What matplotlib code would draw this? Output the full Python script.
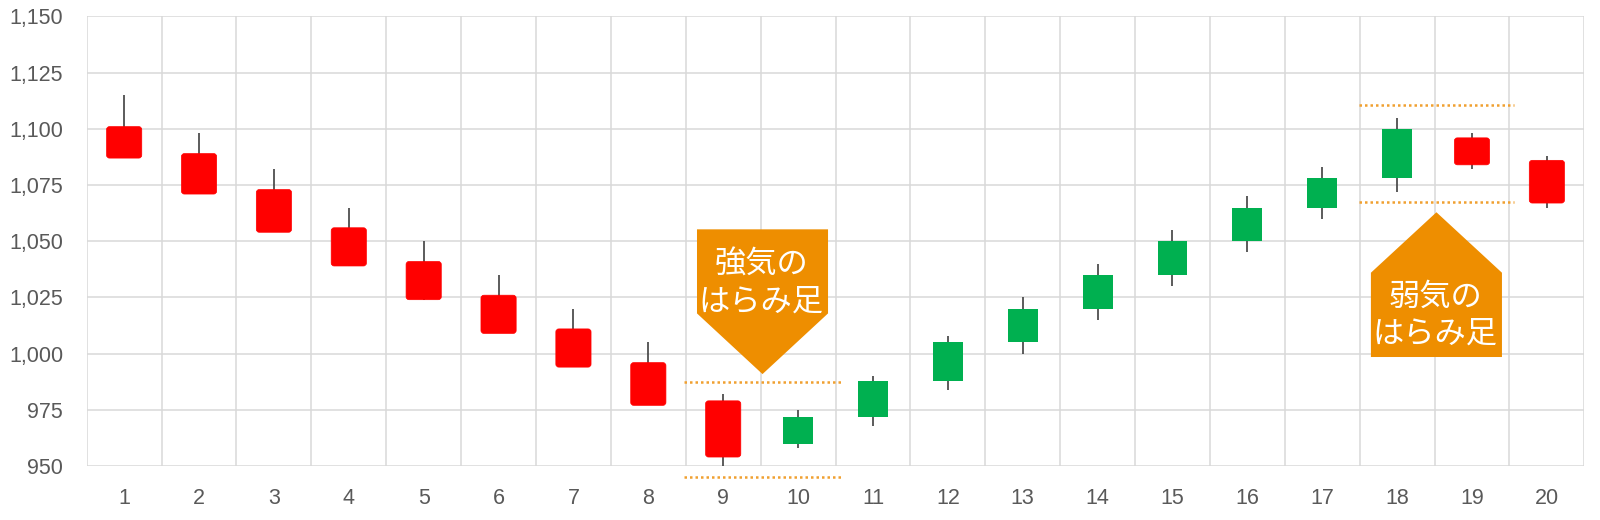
import matplotlib
matplotlib.use("Agg")
import matplotlib.pyplot as plt
from matplotlib.patches import FancyBboxPatch, Rectangle, Polygon
from matplotlib.ticker import FuncFormatter

# ---- data ----
days = list(range(1, 21))
opens  = [1101, 1089, 1073, 1056, 1041, 1026, 1011, 996, 979, 960,
          972, 988, 1005, 1020, 1035, 1050, 1065, 1078, 1096, 1086]
closes = [1087, 1071, 1054, 1039, 1024, 1009, 994, 977, 954, 972,
          988, 1005, 1020, 1035, 1050, 1065, 1078, 1100, 1084, 1067]
highs  = [1115, 1098, 1082, 1065, 1050, 1035, 1020, 1005, 982, 975,
          990, 1008, 1025, 1040, 1055, 1070, 1083, 1105, 1098, 1088]
lows   = [1087, 1071, 1054, 1039, 1024, 1009, 994, 977, 950, 958,
          968, 984, 1000, 1015, 1030, 1045, 1060, 1072, 1082, 1065]
y_ticks = [950, 975, 1000, 1025, 1050, 1075, 1100, 1125, 1150]

# annotation data
bull_label = "強気の\nはらみ足"
bear_label = "弱気の\nはらみ足"
bull_range_x = [8.48, 10.58]
bull_levels = [987.5, 945]
bear_range_x = [17.49, 19.56]
bear_levels = [1110.5, 1067.5]
# callout pentagons: (left, right, flat edge y, shoulder y, tip y, tip x)
bull_callout = (8.65, 10.40, 1055.3, 1017.9, 990.9, 9.525)
bear_callout = (17.65, 19.40, 998.5, 1036.0, 1062.9, 18.525)
bull_text_xy = (9.51, 1031.5)
bear_text_xy = (18.51, 1017.0)

RED = "#FF0000"
GREEN = "#00B050"
ORANGE = "#EE8E00"
DOT = "#F0A030"

plt.rcParams['font.family'] = ['Liberation Sans', 'DejaVu Sans']

fig = plt.figure(figsize=(16, 5.2), dpi=100)
ax = fig.add_axes([0.0542, 0.1038, 0.9360, 0.8645])

ax.set_xlim(0.5, 20.5)
ax.set_ylim(950, 1150)

# grid
ax.set_yticks(y_ticks)
ax.set_xticks(days)
ax.set_xticks([d - 0.5 for d in days] + [20.5], minor=True)
ax.grid(True, which='major', axis='y', color='#D9D9D9', lw=1.1)
ax.grid(True, which='minor', axis='x', color='#D9D9D9', lw=1.1)
ax.set_axisbelow(True)
for s in ax.spines.values():
    s.set_visible(False)
ax.tick_params(axis='both', which='both', length=0)
ax.tick_params(axis='y', pad=17, labelsize=15.5, labelcolor='#595959')
ax.tick_params(axis='x', pad=15.5, labelsize=15.5, labelcolor='#595959')
ax.yaxis.set_major_formatter(FuncFormatter(lambda v, p: f"{int(v):,}"))

# candles
for d, o, c, h, l in zip(days, opens, closes, highs, lows):
    top, bot = max(o, c), min(o, c)
    ax.plot([d, d], [bot, h], color='#404040', lw=1.2, zorder=2, solid_capstyle='butt')
    ax.plot([d, d], [l, top], color='#404040', lw=1.2, zorder=2, solid_capstyle='butt')
    if c < o:
        w = 0.47
        p = FancyBboxPatch((d - w / 2, bot), w, top - bot,
                           boxstyle="round,pad=0,rounding_size=0.04",
                           mutation_aspect=33,
                           facecolor=RED, edgecolor=RED, lw=0.5, zorder=3)
        ax.add_patch(p)
    else:
        w = 0.40
        ax.add_patch(Rectangle((d - w / 2, bot), w, top - bot,
                               facecolor=GREEN, edgecolor='none', zorder=3))

# dotted levels
for lvl in bull_levels:
    ax.plot(bull_range_x, [lvl, lvl], color=DOT, lw=1.8, ls=(0, (1, 1.2)),
            clip_on=False, zorder=4)
for lvl in bear_levels:
    ax.plot(bear_range_x, [lvl, lvl], color=DOT, lw=1.8, ls=(0, (1, 1.2)),
            clip_on=False, zorder=4)

# callouts
def callout(spec, label, txy):
    l, r, flat, sh, tip, tx = spec
    poly = Polygon([(l, flat), (r, flat), (r, sh), (tx, tip), (l, sh)],
                   closed=True, facecolor=ORANGE, edgecolor='none', zorder=5)
    ax.add_patch(poly)
    ax.text(txy[0], txy[1], label, ha='center', va='center', color='white',
            fontsize=22.5, linespacing=1.2, zorder=6,
            family=['Noto Sans CJK JP', 'DejaVu Sans'])

callout(bull_callout, bull_label, bull_text_xy)
callout(bear_callout, bear_label, bear_text_xy)

fig.savefig("out.png", dpi=100, facecolor='white')
